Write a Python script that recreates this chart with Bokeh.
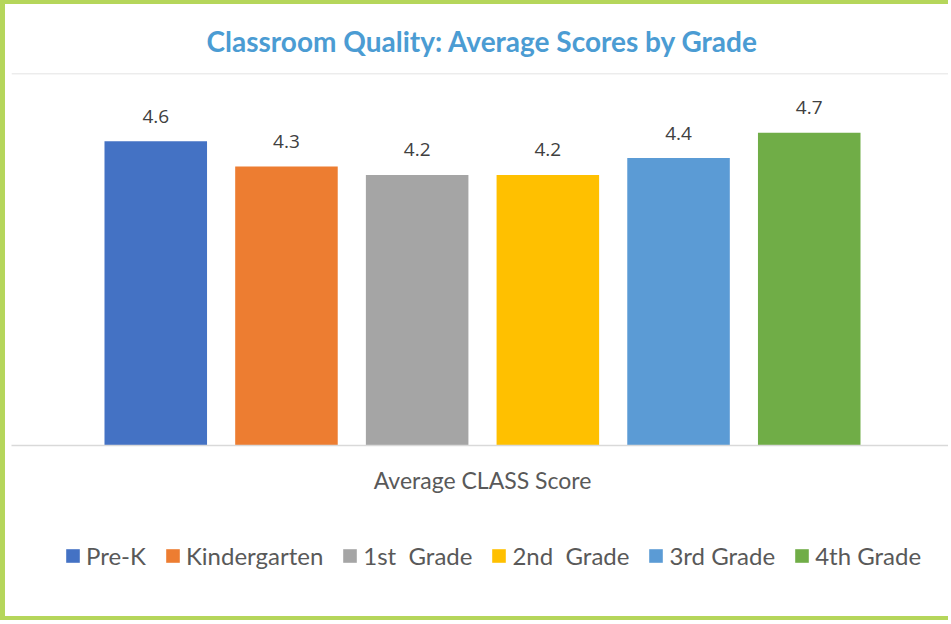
from bokeh.plotting import figure
from bokeh.layouts import column
from bokeh.models import ColumnDataSource, FactorRange, Span, Legend, LegendItem, Range1d
from bokeh.transform import dodge
from bokeh.core.properties import value
from bokeh.embed import file_html
from bokeh.resources import INLINE

# ---- data ----
category = ["Average CLASS Score"]
grades = ["Pre-K", "Kindergarten", "1st  Grade", "2nd  Grade", "3rd Grade", "4th Grade"]
scores = [4.6, 4.3, 4.2, 4.2, 4.4, 4.7]
colors = ["#4472C4", "#ED7D31", "#A5A5A5", "#FFC000", "#5B9BD5", "#70AD47"]
y_start, y_end = 1.0, 5.4

GREEN = "4px solid #B5D65B"
W = 948
H_MAIN, H_LEG = 520, 100
LEFT = 6
FRAME_W = W - 5 - LEFT

# ---------------- main chart ----------------
p = figure(
    x_range=FactorRange(factors=category, range_padding=0),
    y_range=(y_start, y_end),
    width=W, height=H_MAIN,
    output_backend="svg", toolbar_location=None,
    y_axis_location=None,
    min_border_left=LEFT, min_border_right=0,
    min_border_top=69, min_border_bottom=79,
    title="Classroom Quality: Average Scores by Grade",
)
p.styles = {"border-left": "5px solid #B5D65B", "border-top": GREEN}
p.outline_line_color = None
p.grid.visible = False
p.background_fill_color = "white"
p.border_fill_color = "white"

p.title.align = "center"
p.title.text_font = "Lato"
p.title.text_font_size = "28px"
p.title.text_font_style = "bold"
p.title.text_color = "#4B9CD3"
p.title.standoff = 32

ax = p.xaxis[0]
ax.axis_line_color = "#D9D9D9"
ax.axis_line_width = 1.5
ax.major_tick_line_color = None
ax.major_tick_out = 0
ax.major_tick_in = 0
ax.major_label_text_font = "Lato"
ax.major_label_text_font_size = "23px"
ax.major_label_text_color = "#595959"
ax.major_label_standoff = 20

p.add_layout(Span(location=y_end, dimension="width", line_color="#D9D9D9", line_width=1.5))

# ---------------- legend strip ----------------
# legend-only renderers: hidden, so nothing is drawn in the strip but the legend swatches
leg = figure(
    x_range=FactorRange(factors=category, range_padding=0),
    y_range=Range1d(-1000, -999),
    width=W, height=H_LEG,
    output_backend="svg", toolbar_location=None,
    x_axis_location=None, y_axis_location=None,
    min_border_left=LEFT, min_border_right=0,
    min_border_top=0, min_border_bottom=0,
)
leg.styles = {"border-left": "5px solid #B5D65B", "border-bottom": GREEN}
leg.outline_line_color = None
leg.grid.visible = False
leg.background_fill_color = "white"
leg.border_fill_color = "white"

step = 130 / FRAME_W
bar_w = 102 / FRAME_W
items = []
n = len(grades)
for i, (g, s, c) in enumerate(zip(grades, scores, colors)):
    off = (i - (n - 1) / 2) * step
    src = ColumnDataSource(dict(x=category, top=[s], lab=[f"{s:.1f}"]))
    p.vbar(x=dodge("x", off, range=p.x_range), top="top", bottom=y_start,
           width=bar_w, source=src, fill_color=c, line_color=None)
    p.text(x=dodge("x", off, range=p.x_range), y="top", text="lab", source=src,
           text_align="center", text_baseline="alphabetic", y_offset=-25,
           text_font=value("Open Sans"), text_font_size="19px", text_color="#404040")
    r = leg.vbar(x=dodge("x", off, range=leg.x_range), top="top", bottom=y_start,
                 width=bar_w, source=src, fill_color=c, line_color=None)
    r.visible = False
    items.append(LegendItem(label=g, renderers=[r]))

legend = Legend(items=items, orientation="horizontal", location=(53, 50))
legend.border_line_color = None
legend.background_fill_alpha = 0
legend.inactive_fill_alpha = 0
legend.padding = 0
legend.margin = 0
legend.spacing = 18
legend.glyph_width = 17
legend.glyph_height = 17
legend.label_standoff = 5
legend.label_text_font = "Lato"
legend.label_text_font_size = "24px"
legend.label_text_color = "#595959"
leg.add_layout(legend, "center")

layout = column(p, leg, spacing=0)
open("out.html", "w").write(file_html(layout, INLINE))
